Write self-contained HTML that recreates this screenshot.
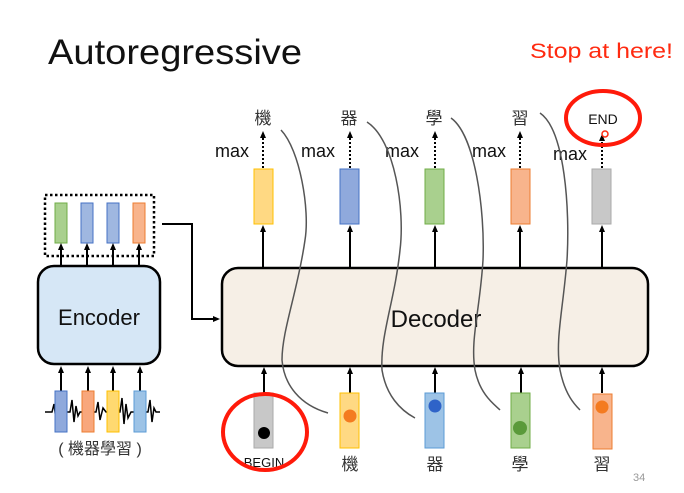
<!DOCTYPE html>
<html><head><meta charset="utf-8"><style>
html,body{margin:0;padding:0;background:#fff;}
svg{display:block;font-family:"Liberation Sans","Noto Sans CJK TC",sans-serif;}
</style></head><body>
<svg width="684" height="493" viewBox="0 0 684 493" xmlns="http://www.w3.org/2000/svg">
<defs>
<marker id="a" markerWidth="8" markerHeight="8" refX="4" refY="4" orient="auto" markerUnits="userSpaceOnUse"><path d="M0,1 L7,4 L0,7 z" fill="#000"/></marker>
</defs>
<text x="48" y="64" font-size="35" textLength="254" lengthAdjust="spacingAndGlyphs" fill="#111">Autoregressive</text>
<text x="530" y="58" font-size="21" textLength="143" lengthAdjust="spacingAndGlyphs" fill="#ff2a10">Stop at here!</text>

<!-- Encoder -->
<rect x="45" y="195" width="109" height="61" fill="none" stroke="#000" stroke-width="2.5" stroke-dasharray="2.5,2.5"/>
<rect x="55" y="203" width="12" height="40" fill="#a9d08e" stroke="#70ad47"/>
<rect x="81" y="203" width="12" height="40" fill="#9fb7e0" stroke="#4472c4"/>
<rect x="107" y="203" width="12" height="40" fill="#9fb7e0" stroke="#4472c4"/>
<rect x="133" y="203" width="12" height="40" fill="#f8b48c" stroke="#ed7d31"/>
<g stroke="#000" stroke-width="2" marker-end="url(#a)">
<line x1="61" y1="266" x2="61" y2="246"/><line x1="87" y1="266" x2="87" y2="246"/><line x1="113" y1="266" x2="113" y2="246"/><line x1="139" y1="266" x2="139" y2="246"/>
<line x1="61" y1="391" x2="61" y2="369"/><line x1="88" y1="391" x2="88" y2="369"/><line x1="113" y1="391" x2="113" y2="369"/><line x1="140" y1="391" x2="140" y2="369"/>
</g>
<rect x="38" y="266" width="122" height="98" rx="16" fill="#d6e7f6" stroke="#000" stroke-width="2.5"/>
<text x="99" y="325" font-size="22" text-anchor="middle" fill="#111">Encoder</text>
<path d="M45,412 L52,412 L54,404 L56,420 L58,412 L70,412 L72,400 L74,422 L76,406 L78,416 L80,412 L96,412 L98,402 L100,420 L103,408 L106,412 L120,412 L122,398 L124,424 L126,404 L128,418 L131,412 L148,412 L150,400 L152,422 L154,408 L156,412 L160,412" fill="none" stroke="#000" stroke-width="1.5"/>
<rect x="55" y="391" width="12" height="41" fill="#8fa9dc" stroke="#4472c4"/>
<rect x="82" y="391" width="12" height="41" fill="#f8a77c" stroke="#ed7d31"/>
<rect x="107" y="391" width="12" height="41" fill="#ffd970" stroke="#ffc000"/>
<rect x="134" y="391" width="12" height="41" fill="#9dc3e6" stroke="#5b9bd5"/>
<text x="100" y="454" font-size="16" text-anchor="middle" fill="#333">( 機器學習 )</text>
<path d="M162,224 L192,224 L192,319 L217,319" fill="none" stroke="#000" stroke-width="2" marker-end="url(#a)"/>

<!-- Decoder -->
<rect x="222" y="268" width="426" height="98" rx="16" fill="#f6efe6" stroke="#000" stroke-width="2.5"/>
<text x="436" y="327" font-size="24" text-anchor="middle" fill="#111">Decoder</text>

<g stroke="#000" stroke-width="2" marker-end="url(#a)">
<line x1="263" y1="268" x2="263" y2="228"/><line x1="350" y1="268" x2="350" y2="228"/><line x1="435" y1="268" x2="435" y2="228"/><line x1="520" y1="268" x2="520" y2="228"/><line x1="602" y1="268" x2="602" y2="228"/>
<line x1="264" y1="393" x2="264" y2="370"/><line x1="350" y1="393" x2="350" y2="370"/><line x1="435" y1="393" x2="435" y2="370"/><line x1="521" y1="393" x2="521" y2="370"/><line x1="602" y1="393" x2="602" y2="370"/>
</g>
<g stroke="#000" stroke-width="2" stroke-dasharray="2,2" marker-end="url(#a)">
<line x1="263" y1="168" x2="263" y2="134"/><line x1="350" y1="168" x2="350" y2="134"/><line x1="435" y1="168" x2="435" y2="134"/><line x1="520" y1="168" x2="520" y2="134"/><line x1="602" y1="168" x2="602" y2="137"/>
</g>
<rect x="254" y="169" width="19" height="55" fill="#ffd983" stroke="#ffc000"/>
<rect x="340" y="169" width="19" height="55" fill="#8fa9dc" stroke="#4472c4"/>
<rect x="425" y="169" width="19" height="55" fill="#a9d08e" stroke="#70ad47"/>
<rect x="511" y="169" width="19" height="55" fill="#f8b48c" stroke="#ed7d31"/>
<rect x="592" y="169" width="19" height="55" fill="#c8c8c8" stroke="#aaa"/>
<g font-size="17" text-anchor="middle" fill="#333">
<text x="263" y="124">機</text><text x="349" y="124">器</text><text x="434" y="124">學</text><text x="520" y="124">習</text>
</g>
<text x="603" y="124" font-size="14" text-anchor="middle" fill="#111">END</text>
<g font-size="18" fill="#111">
<text x="215" y="157">max</text><text x="301" y="157">max</text><text x="385" y="157">max</text><text x="472" y="157">max</text><text x="553" y="160">max</text>
</g>
<circle cx="605" cy="134" r="3" fill="none" stroke="#ff2a10" stroke-width="1.5"/>
<ellipse cx="603" cy="118" rx="37" ry="27" fill="none" stroke="#ff1a0a" stroke-width="4"/>

<!-- bottom inputs -->
<rect x="254" y="393" width="19" height="55" fill="#c8c8c8" stroke="#aaa"/>
<rect x="340" y="393" width="19" height="55" fill="#ffd983" stroke="#ffc000"/>
<rect x="425" y="393" width="19" height="55" fill="#9dc3e6" stroke="#5b9bd5"/>
<rect x="511" y="393" width="19" height="55" fill="#a9d08e" stroke="#70ad47"/>
<rect x="593" y="394" width="19" height="55" fill="#f8b48c" stroke="#ed7d31"/>
<circle cx="264" cy="433" r="6" fill="#000"/>
<circle cx="350" cy="416" r="6.5" fill="#f47b20"/>
<circle cx="435" cy="406" r="6.5" fill="#2f63c8"/>
<circle cx="520" cy="428" r="7" fill="#5a9a3a"/>
<circle cx="602" cy="407" r="6.5" fill="#f47b20"/>
<text x="264" y="467" font-size="13" text-anchor="middle" fill="#111">BEGIN</text>
<g font-size="17" text-anchor="middle" fill="#333">
<text x="350" y="470">機</text><text x="435" y="470">器</text><text x="520" y="470">學</text><text x="602" y="470">習</text>
</g>
<ellipse cx="265" cy="432" rx="42" ry="38" fill="none" stroke="#ff1a0a" stroke-width="4"/>
<text x="633" y="481" font-size="11" fill="#999">34</text>

<!-- hand-drawn curves -->
<g fill="none" stroke="#555" stroke-width="1.5">
<path d="M281,130 C300,150 310,210 305,240 C298,290 282,330 282,360 C284,385 300,405 328,413"/>
<path d="M367,122 C395,140 405,210 400,250 C395,300 380,335 382,370 C386,395 400,410 415,418"/>
<path d="M451,118 C475,135 485,210 483,260 C480,310 470,340 475,370 C480,395 495,405 500,410"/>
<path d="M540,113 C565,130 570,210 567,260 C563,310 555,340 560,370 C565,395 575,405 580,410"/>
</g>
</svg>
</body></html>
